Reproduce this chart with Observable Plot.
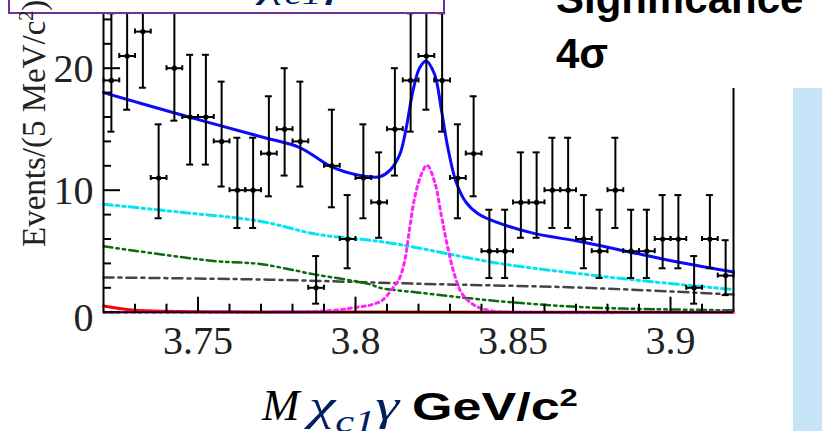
<!DOCTYPE html>
<html>
<head>
<meta charset="utf-8">
<script src="https://cdn.jsdelivr.net/npm/d3@7"></script>
<script src="https://cdn.jsdelivr.net/npm/@observablehq/plot@0.6"></script>
<style>
  html, body { margin: 0; padding: 0; background: #fff; }
  #wrap { position: relative; width: 822px; height: 431px; overflow: hidden; background: #fff; }
  #chart { position: absolute; left: 0; top: 0; }
  .abs { position: absolute; white-space: nowrap; }
</style>
</head>
<body>
<div id="wrap">
  <div id="chart"></div>
  <div class="abs" id="titlebox" style="left:8px; top:-50px; width:433px; height:60px; border:2px solid #7030A0; background:#fff; overflow:hidden;">
    <div class="abs" style="left:250px; top:11px; transform-origin:0 0; transform:scaleX(1.4); font-family:'Liberation Serif',serif; font-style:italic; font-size:40px; line-height:40px; color:#002060;">χ<span style="font-size:28px; position:relative; top:8px;">c1</span>γ</div>
  </div>
  <div class="abs" id="sigbox" style="left:545px; top:0; width:277px; height:88px; background:#fff;">
    <div class="abs" style="left:11px; top:-26px; font-family:'Liberation Sans',Arial,sans-serif; font-weight:bold; font-size:42px; line-height:50px; color:#000;">Significance</div>
    <div class="abs" style="left:11px; top:29px; font-family:'Liberation Sans',Arial,sans-serif; font-weight:bold; font-size:42px; line-height:50px; color:#000;">4σ</div>
  </div>
  <div class="abs" style="left:793px; top:88px; width:29px; height:343px; background:#C5E4F8;"></div>
  <div class="abs" id="ylab" style="left:18px; top:247px; transform-origin:0 0; transform:rotate(-90deg); font-family:'Liberation Serif',serif; font-size:33px; line-height:33px; color:#222;">Events/(5 MeV/c<sup style="font-size:20px; line-height:0;">2</sup>)</div>
  <div class="abs" style="left:262px; top:380px; font-family:'Liberation Serif',serif; font-style:italic; font-size:45px; line-height:50px; color:#000;">M</div>
  <div class="abs" style="left:309px; top:380px; transform-origin:0 0; transform:scaleX(1.33); font-family:'Liberation Serif',serif; font-style:italic; font-size:45px; line-height:50px; color:#002060;">χ<span style="font-size:32px; position:relative; top:12px;">c1</span>γ</div>
  <div class="abs" style="left:412px; top:384px; transform-origin:0 0; transform:scaleX(1.37); font-family:'Liberation Sans',Arial,sans-serif; font-weight:bold; font-size:38px; line-height:46px; color:#000;">GeV/c<sup style="font-size:24px; line-height:0;">2</sup></div>
</div>
<script>
// ---- data ----
const binCenters = [3.7225,3.7275,3.7325,3.7375,3.7425,3.7475,3.7525,3.7575,3.7625,3.7675,
                    3.7725,3.7775,3.7825,3.7875,3.7925,3.7975,3.8025,3.8075,3.8125,3.8175,
                    3.8225,3.8275,3.8325,3.8375,3.8425,3.8475,3.8525,3.8575,3.8625,3.8675,
                    3.8725,3.8775,3.8825,3.8875,3.8925,3.8975,3.9025,3.9075,3.9125,3.9175];
const counts  = [19,21,23,11,20,16,16,14,10,10,
                 13,15,14, 2,12, 6,11, 9,15,19,
                 21,19,11,13, 5, 5, 9, 9,10,10,
                  6, 5,10, 5, 5, 6, 6, 2, 6, 3];
const errLow  = [14.8,16.6,18.4,7.7,15.7,12.1,12.1,10.3,6.9,6.9,
                 9.5,11.2,10.3,0.7,8.6,3.6,7.7,6.1,11.2,14.8,
                 16.6,14.8,7.7,9.5,2.8,2.8,6.1,6.1,6.9,6.9,
                 3.6,2.8,6.9,2.8,2.8,3.6,3.6,0.7,3.6,1.4];
const errHigh = [24.5,26.7,29.0,15.4,25.6,21.1,21.1,18.9,14.3,14.3,
                 17.7,20.0,18.9,4.6,16.6,9.6,15.4,13.1,20.0,24.5,
                 26.7,24.5,15.4,17.7,8.4,8.4,13.1,13.1,14.3,14.3,
                 9.6,8.4,14.3,8.4,8.4,9.6,9.6,4.6,9.6,5.9];
const binWidth = 0.005;

// total fit (blue)
const totalX = [3.7200,3.7443,3.7697,3.7823,3.7918,3.7982,3.8029,3.8077,3.8108,3.8140,3.8161,3.8182,3.8203,3.8224,3.8251,3.8272,3.8293,3.8319,3.8351,3.8393,3.8456,3.8560,3.8720,3.8877,3.9035,3.9200];
const totalY = [18.0,16.2,14.4,13.5,12.0,11.4,11.15,11.1,11.6,12.9,15.1,18.1,20.0,20.6,19.5,16.7,13.5,10.7,9.0,8.0,7.3,6.5,5.75,4.9,4.05,3.3];
// signal (magenta dotted)
const sigX = [3.7200,3.7700,3.7850,3.7950,3.8000,3.8050,3.8086,3.8119,3.8140,3.8156,3.8172,3.8188,3.8209,3.8227,3.8251,3.8272,3.8293,3.8314,3.8340,3.8382,3.8434,3.8500,3.9200];
const sigY = [0.0,0.0,0.05,0.2,0.4,0.6,1.0,2.0,2.8,4.2,6.9,9.4,11.3,12.05,10.7,8.0,5.3,3.1,1.45,0.5,0.1,0.0,0.0];
// background components
const cyanX = [3.7200,3.7443,3.7697,3.7876,3.8077,3.8172,3.8456,3.8730,3.8940,3.9200];
const cyanY = [8.85,8.2,7.46,6.4,5.8,5.4,4.0,3.1,2.5,1.86];
const greenX = [3.7200,3.7550,3.7697,3.7870,3.8045,3.8077,3.8203,3.8456,3.8730,3.8950,3.9200];
const greenY = [5.4,4.2,3.95,3.1,2.3,2.0,1.6,0.9,0.4,0.25,0.15];
const grayX = [3.7200,3.7697,3.8203,3.8730,3.9200];
const grayY = [2.85,2.68,2.33,2.0,1.45];
const redX = [3.7200,3.7250,3.7300,3.7400,3.7600,3.8000,3.9200];
const redY = [0.5,0.3,0.15,0.07,0.03,0.01,0.0];

// axes
const xMajorTicks = [3.75,3.8,3.85,3.9];
const xTickLabels = ["3.75","3.8","3.85","3.9"];
const xMinorTicks = [3.73,3.74,3.76,3.77,3.78,3.79,3.81,3.82,3.83,3.84,3.86,3.87,3.88,3.89,3.91];
const yMajorTicks = [0,10,20];
const yTickLabels = ["0","10","20"];
const yMinorTicks = [2,4,6,8,12,14,16,18,22,24];

// ---- build tables ----
const rows = binCenters.map((x, i) => ({x, n: counts[i], lo: errLow[i], hi: errHigh[i], x1: x - binWidth/2, x2: x + binWidth/2}));
const pairs = (X, Y) => X.map((x, i) => ({x, y: Y[i]}));

const W = 822, H = 372, mL = 103, mR = 89, mT = 0, mB = 60.3;
const fw = W - mL - mR, fh = H - mT - mB;
const serif = "'Liberation Serif', 'Times New Roman', serif";

const chart = Plot.plot({
  width: W, height: H,
  marginLeft: mL, marginRight: mR, marginTop: mT, marginBottom: mB,
  x: {domain: [3.72, 3.92], axis: null},
  y: {domain: [0, 25.55], axis: null},
  style: {background: "transparent", overflow: "visible"},
  marks: [
    Plot.line(pairs(redX, redY), {x: "x", y: "y", stroke: "#ff0000", strokeWidth: 3, curve: "catmull-rom"}),
    Plot.line(pairs(grayX, grayY), {x: "x", y: "y", stroke: "#444", strokeWidth: 2.5, strokeDasharray: "10,5,3,5", curve: "catmull-rom"}),
    Plot.line(pairs(greenX, greenY), {x: "x", y: "y", stroke: "#0b6b0b", strokeWidth: 2.5, strokeDasharray: "9,4,2.5,4,2.5,4", curve: "catmull-rom"}),
    Plot.line(pairs(cyanX, cyanY), {x: "x", y: "y", stroke: "#00e5f0", strokeWidth: 3, strokeDasharray: "9,4,2.5,4,2.5,4", curve: "catmull-rom"}),
    Plot.line(pairs(sigX, sigY), {x: "x", y: "y", stroke: "#ff22ff", strokeWidth: 3, strokeDasharray: "3,4", curve: "catmull-rom"}),
    Plot.line(pairs(totalX, totalY), {x: "x", y: "y", stroke: "#0a0aff", strokeWidth: 3, curve: "catmull-rom"}),
    // data points with errors
    Plot.ruleX(rows, {x: "x", y1: "lo", y2: "hi", stroke: "#000", strokeWidth: 2}),
    Plot.ruleY(rows, {y: "hi", x1: "x", x2: "x", insetLeft: -3.5, insetRight: -3.5, stroke: "#000", strokeWidth: 2}),
    Plot.ruleY(rows, {y: "lo", x1: "x", x2: "x", insetLeft: -3.5, insetRight: -3.5, stroke: "#000", strokeWidth: 2}),
    Plot.ruleY(rows, {y: "n", x1: "x1", x2: "x2", stroke: "#000", strokeWidth: 2}),
    Plot.ruleX(rows, {x: "x1", y1: "n", y2: "n", insetTop: -2.5, insetBottom: -2.5, stroke: "#000", strokeWidth: 2}),
    Plot.ruleX(rows, {x: "x2", y1: "n", y2: "n", insetTop: -2.5, insetBottom: -2.5, stroke: "#000", strokeWidth: 2}),
    Plot.dot(rows, {x: "x", y: "n", r: 2.6, fill: "#000", stroke: "none"}),
    // frame (left, bottom, right)
    Plot.ruleX([3.72, 3.92], {stroke: "#000", strokeWidth: 2}),
    Plot.ruleY([0], {stroke: "#000", strokeWidth: 2}),
    // inward ticks
    Plot.ruleX(xMajorTicks, {x: d => d, insetTop: fh - 15, stroke: "#000", strokeWidth: 2}),
    Plot.ruleX(xMinorTicks, {x: d => d, insetTop: fh - 8, stroke: "#000", strokeWidth: 2}),
    Plot.ruleY(yMajorTicks, {y: d => d, insetRight: fw - 17, stroke: "#000", strokeWidth: 2}),
    Plot.ruleY(yMinorTicks, {y: d => d, insetRight: fw - 8, stroke: "#000", strokeWidth: 2}),
    // tick labels
    Plot.text(xMajorTicks, {x: d => d, text: (d, i) => xTickLabels[i], frameAnchor: "bottom", lineAnchor: "top", dy: 13, fontSize: 40, fontFamily: serif, fill: "#222"}),
    Plot.text(yMajorTicks.slice(1), {y: d => d, text: (d, i) => yTickLabels[i + 1], frameAnchor: "left", textAnchor: "end", dx: -10, dy: 1, fontSize: 40, fontFamily: serif, fill: "#222"}),
    Plot.text(yMajorTicks.slice(0, 1), {y: d => d, text: (d, i) => yTickLabels[i], frameAnchor: "left", textAnchor: "end", dx: -10, dy: 6, fontSize: 40, fontFamily: serif, fill: "#222"})
  ]
});
document.getElementById("chart").appendChild(chart);
</script>
</body>
</html>
